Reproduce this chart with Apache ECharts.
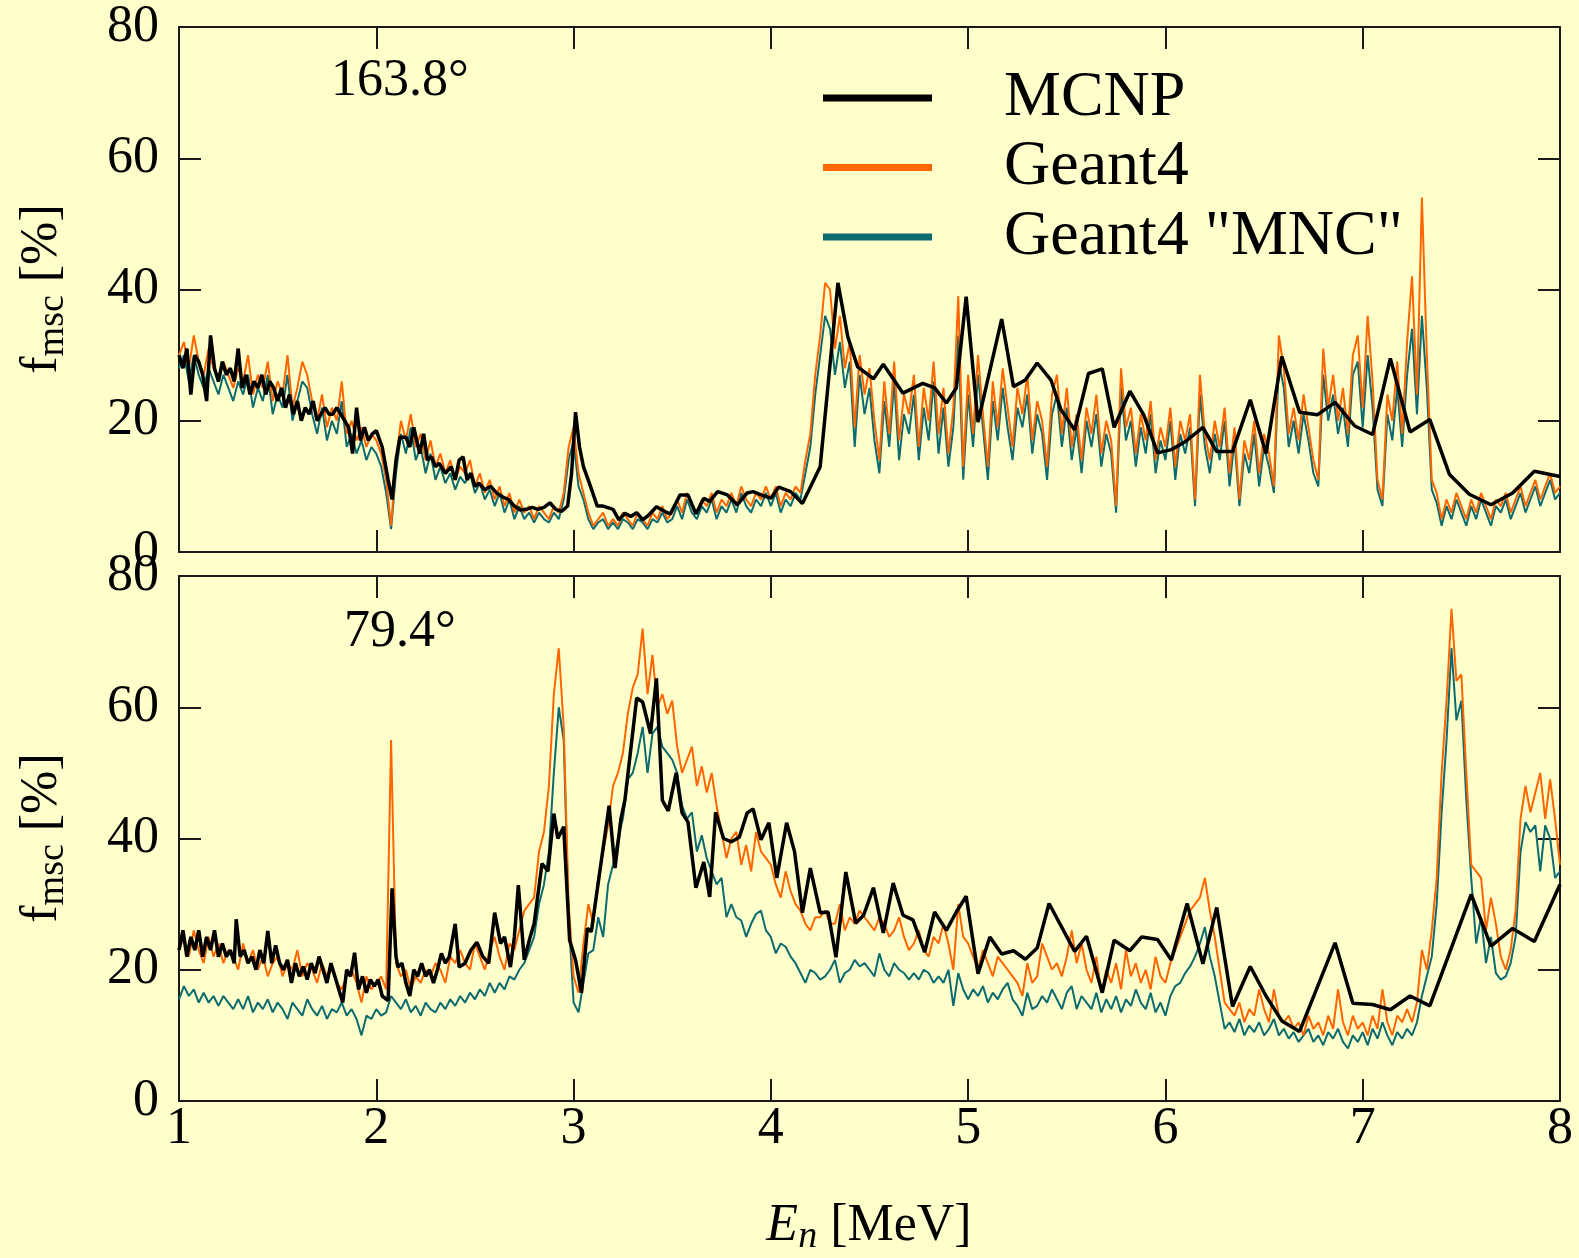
<!DOCTYPE html>
<html lang="en">
<head>
<meta charset="UTF-8">
<title>f_msc vs E_n</title>
<style>
    html, body { margin: 0; padding: 0; background: #ffffcc; }
    #box { width: 1579px; height: 1258px; }
</style>
</head>
<body>
<div id="box"></div>
<script src="https://cdn.jsdelivr.net/npm/echarts/dist/echarts.min.js"></script>
<script>
// Geant4 bins: 1.000, 1.025, ... 8.000 MeV
var E_START = 1.0;
var E_STEP = 0.025;

// ---- 163.8 deg ----
var g4Top = [
    30,32,28,33,29,27,31,28,26,29, 27,25,28,26,30,24,27,25,29,23, 26,24,30,22,25,29,27,23,20,24, 19,22,20,26,18,20,17,19,16,18,
    17,15,11,4,14,20,17,21,16,18, 14,17,13,15,12,14,11,13,12,14, 10,12,9,11,8,10,7,9,6,8, 6,7,5,7,6,5,7,6,9,16,
    19,12,9,6,4,5,6,4,5,4, 6,5,4,6,5,4,6,5,7,5, 6,8,6,9,7,6,8,7,9,6, 8,7,9,7,10,8,7,9,8,10,
    8,10,7,9,8,10,9,14,18,27, 33,41,40,31,36,28,32,19,30,24, 28,20,14,26,18,29,17,24,21,27, 16,25,20,29,18,25,15,22,39,13,
    27,18,30,21,13,26,19,28,22,16, 25,21,27,17,23,20,13,24,27,18, 25,16,21,14,22,18,24,15,20,17, 7,28,19,22,15,21,17,23,14,19,
    16,22,13,20,17,21,8,27,18,14, 20,16,22,12,19,8,17,14,20,12, 18,15,10,33,28,18,22,17,24,19, 14,11,31,22,27,20,25,18,30,33,
    22,36,26,11,8,24,20,29,18,32, 42,24,54,30,11,9,5,8,6,9, 7,5,8,6,9,7,5,8,7,9, 6,8,10,7,9,11,8,10,12,9,
    10
];
var g4MncTop = [
    28,30,26,30,27,25,28,26,24,27, 25,23,26,24,27,22,25,23,27,21, 24,22,27,20,23,26,25,21,18,22, 17,20,18,23,16,18,15,17,14,16,
    15,13,9,3.5,12,18,15,19,14,16, 12,15,11,13,10.5,12,9.5,11.5,10.5,12, 9,10.5,8,9.5,7,9,6,8,5,7, 5,6,4.5,6,5,4.5,6,5,8,14,
    17,10,8,5,3.5,4.5,5,3.5,4.5,3.5, 5,4.5,3.5,5,4.5,3.5,5,4.5,6,4.5, 5,7,5,8,6,5,7,6,8,5, 7,6,8,6,9,7,6,8,7,9,
    7,9,6,8,7,9,8,12,16,24, 30,36,34,27,32,25,29,16,27,21, 25,17,12,23,16,26,14,21,18,24, 14,22,17,26,15,22,13,19,33,11,
    24,16,27,19,11,23,17,25,19,14, 22,19,24,15,21,18,11,21,24,16, 22,14,19,12,20,16,21,13,18,15, 6,25,17,20,13,19,15,21,12,17,
    14,20,11,18,15,19,7,24,16,12, 18,14,20,10,17,7,15,12,18,10, 16,13,9,29,25,16,20,15,21,17, 12,10,27,20,24,18,22,16,27,29,
    19,30,22,9.5,7,21,17,25,16,27, 34,21,36,25,9.5,7.5,4,7,5,8, 6,4,7,5,8,6,4,7,6,8, 5,7,9,6,8,10,7,9,11,8,
    9
];
var mcnpTopE = [
    1.00,1.02,1.04,1.06,1.08,1.10,1.12,1.14,1.16,1.18, 1.20,1.22,1.24,1.26,1.28,1.30,1.32,1.34,1.36,1.38,
    1.40,1.42,1.44,1.46,1.48,1.50,1.52,1.54,1.56,1.58, 1.60,1.62,1.64,1.66,1.68,1.70,1.72,1.74,1.76,1.78,
    1.80,1.82,1.84,1.86,1.88,1.90,1.92,1.94,1.96,1.98, 2.00,
    2.03,2.06,2.08,2.10,2.12,2.15,2.17,2.19,2.22,2.24, 2.26,2.28,2.30,2.32,2.35,2.38,2.40,2.42,2.44,2.46,
    2.48,2.50,2.52,2.55,2.58,2.61,2.64,2.67,2.70,2.73, 2.76,2.79,2.82,2.85,2.88,2.91,2.94,2.97,2.99,3.01,
    3.03,3.05,3.08,3.12,3.15,3.20,3.23,3.26,3.29,3.32, 3.35,3.38,3.42,3.46,3.49,3.54,3.58,3.62,3.66,3.69,
    3.73,3.78,3.83,3.88,3.91,3.96,4.00,4.04,4.10,4.16, 4.25,4.34,4.39,4.44,4.52,4.57,4.67,4.77,4.83,4.89,
    4.94,4.99,5.05,5.17,5.23,5.29,5.35,5.42,5.47,5.54, 5.61,5.68,5.74,5.82,5.89,5.96,6.03,6.10,6.19,6.26,
    6.34,6.43,6.51,6.59,6.68,6.77,6.86,6.96,7.05,7.14, 7.24,7.34,7.44,7.54,7.65,7.76,7.87,8.00
];
var mcnpTop = [
    30,28,31,24,30,29,27,23,33,28, 26,29,27,28,26,31,25,27,24,26,
    25,27,24,26,25,23,25,22,24,21, 23,20,22,21,23,20,21,22,21,21,
    22,21,20,19,15,22,17,19,17,18, 18.5,
    16,11,8,14,17.5,17.5,16,19,15,18, 14,14.5,13,13.5,12,13,11,14,14.5,11,
    12,10,10.5,9.5,10,9,8.4,8,7,6.4, 6.5,6.8,6.5,6.8,7.5,6.5,6.2,7,12,21.3,
    16,13,10.5,7,7,6.5,4.9,5.9,5.4,6.0, 4.9,5.6,6.9,6.2,5.8,8.7,8.7,5.8,8.2,7.7,
    9.2,8.7,7.2,9.0,9.2,8.6,8.2,9.9,9.2,7.4, 13,41,32.8,28.2,26.4,28.6,24.2,25.7,25,22.7,
    25,38.9,19.8,35.5,25.2,26.2,28.8,26.2,21.7,18.6, 27.2,27.9,19.0,24.5,20.9,15.1,15.6,16.8,19.0,15.3,
    15.3,23.2,15.0,29.8,21.3,20.9,22.8,19.2,17.9,29.5, 18.3,20.2,11.8,8.8,7.2,9.0,12.3,11.5
];

// ---- 79.4 deg ----
var g4Bot = [
    23,25,22,26,23,21,25,22,24,21, 23,22,20,24,21,23,20,22,19,21, 22,19,21,20,23,19,21,20,18,21, 19,20,18,17,19,20,18,15,19,17,
    18,19,17,55,21,19,20,17,19,18, 20,19,21,20,18,22,21,23,21,20, 24,22,20,23,25,22,20,24,23,26, 29,30,31,38,41,48,62,69,57,30,
    19,16.5,24,30,27,34,38,42,48,50, 53,59,63,65,72,62,68,60,62,59, 61,54,50,52,54,48,51,47,50,45, 41,37,40,41,36,39,35,41,38,37,
    36,33,31,35,32,30,29,27,26,28, 28,29,27,27,30,26,28,27,29,28, 27,26,28,27,25,26,28,25,23,24, 26,23,22,25,24,27,24,20,30,25,
    24,22,20,23,21,19,22,21,20,19, 18,16,21,18,19,24,22,20,21,19, 22,26,21,24,20,18,22,16.5,20,18, 21,17,23,19,21,18,20,17,22,19,
    18,21,23,25,27,29,30,31,34,29, 25,20,15,14,13,15,12,14,13,17, 14,12,17,13,12,13,11,12,10,13, 11,12,10,13,11,17,12,10,13,11,
    12,10,13,11,17,12,10,13,12,14, 12,15,23,20,26,34,50,61,75,64, 65,50,36,35,34,26,31,27,22,20, 23,29,43,48,44,47,50,43,49,43,
    36
];
var g4MncBot = [
    15.5,17.5,16,17,15,16.5,15,16,14.5,16, 15,14,15.5,14,16,13.5,15,14,15.5,13.5, 15,14,12.5,15,14,13,15.5,14,13,14.5, 12.5,14,13.5,15,13,14,12.5,10,13,12.5,
    14,13,13.5,16,15,14,15.5,13.5,14.5,13, 15,14,13.5,15,14,15.5,14.5,16,15,16.5, 15.5,17,16,18,16.5,18,17,19,18.5,20, 21,23,25,30,33,38,50,60,55,28,
    15,13.5,18,22.5,23,28,25,33,36,40, 43,49,50,53,57,50,56,57,54,53, 52,50,45,43,44,38,40.5,37,35,33, 34,28,30,28,27.5,25,27,28.5,29,26,
    25,22.5,24,23.5,22,21,19.5,18,20,19.5, 18.5,19,20,21.5,18,19.5,20,21.5,20.5,21, 20,19,22.5,20,19,21,20,19.5,18.5,19.5, 18.5,20,19.5,18,19,18,20,14.5,19.5,17,
    15.5,17,16,17.5,15,16.5,15.5,17,18,15.5, 14.5,13,16.5,14,14.5,16,15,17,15.5,14, 16.5,17.5,14,16,15,14,16.5,13.5,15.5,14, 16,13.5,15.5,14.5,17,15,14,16.5,13.5,15,
    13,16,17.5,18,19.5,20.5,22,24,26.5,22, 19,15,11,12,10.5,12.5,10,11.5,10.5,12, 10,11,12.5,10,11,9.5,10.5,9,10,11, 9,10,8.5,10.5,9.5,11,9,8,10,9,
    10.5,8.5,11,9.5,12,10,8.5,10.5,9.5,11, 10,12,16,19,22,30,44,55,69,58, 61,46,34,24,28,21,25,19.5,18.5,19, 21,25,38,42.5,41,42,35,42,40,34,
    35
];
var mcnpBotE = [
    1.00,1.02,1.04,1.06,1.08,1.10,1.12,1.14,1.16,1.18, 1.20,1.22,1.24,1.26,1.28,1.29,1.31,1.33,1.35,1.37,
    1.39,1.41,1.43,1.45,1.47,1.49,1.51,1.53,1.55,1.57, 1.59,1.61,1.63,1.65,1.67,1.69,1.71,1.73,1.75,1.77,
    1.79,1.81,1.83,1.85,1.87,1.89,1.91,1.93,1.95,1.97, 1.99,2.01,2.03,2.06,2.08,2.10,2.11,2.13,2.15,2.17,
    2.19,2.21,2.23,2.25,2.27,2.29,2.31,2.33,2.35,2.37, 2.40,2.42,2.45,2.48,2.51,2.54,2.57,2.60,2.63,2.65,
    2.68,2.70,2.72,2.75,2.78,2.80,2.84,2.87,2.90,2.92, 2.95,2.98,3.01,3.04,3.07,3.09,3.18,3.21,3.24,3.26,
    3.32,3.35,3.39,3.42,3.45,3.48,3.52,3.55,3.58,3.62, 3.66,3.69,3.72,3.76,3.80,3.84,3.88,3.91,3.95,3.99,
    4.03,4.08,4.12,4.16,4.20,4.25,4.29,4.33,4.38,4.43, 4.47,4.52,4.57,4.62,4.67,4.72,4.78,4.83,4.89,4.94,
    4.99,5.05,5.11,5.17,5.23,5.29,5.35,5.41,5.54,5.60, 5.68,5.74,5.82,5.88,5.96,6.03,6.11,6.19,6.26,6.34,
    6.43,6.51,6.59,6.68,6.86,6.95,7.05,7.14,7.24,7.34, 7.55,7.65,7.76,7.87,8.00
];
var mcnpBot = [
    23,26,22,25,23,26,22,25,23,26, 22,24,22,23,21,27.7,22,23,21,22,
    20,23,21,25.9,21,23.7,21,20,21.5,18, 21,19,20.5,18.5,21,19.5,22,20,18,21,
    19,17,15,20,19,22.6,17,19,16.5,18.5, 17.5,18.5,16,15.3,32.4,22,20.4,21,18,16,
    20,19,21,19,20,18,20,22.5,21,22, 27,20.4,21,23,24.2,22,21,28.7,24,25,
    20.4,25,32.9,21.5,25,27,36.2,35,43.8,40, 41.8,24.5,21.5,16.5,26.3,25.8,45,35.5,43,45.8,
    61.4,60.8,56,64.4,45.8,44.2,50,43.9,42.5,32.5, 36.4,31.1,44,40,39.5,40.2,43.9,44.5,39.8,42.4,
    34,42.4,38,28.7,35.5,28.7,28.8,21.9,34.9,27.1, 28.3,32.5,25.6,33.2,28.3,27.6,22.7,28.8,26,28.8,
    31.2,19.4,25,22.4,22.9,21.6,23.3,30.1,22.8,25.1, 16.5,24.5,22.9,25,24.6,21.5,30.1,20.9,29.5,14.4,
    20.5,16,12.2,10.6,24.1,14.9,14.7,13.9,16,14.5, 31.5,23.6,26.3,24.3,33
];

var xTicks = [1, 8, 1];      // min, max, interval
var yTicks = [0, 80, 20];

var FONT = '"Liberation Serif", "DejaVu Serif", serif';
var AXIS_COLOR = '#1a1a1a';
var C_MCNP = '#000000', C_G4 = '#ff6600', C_MNC = '#0b6b6e';

function g4Pairs(vals) {
    return vals.map(function (v, i) { return [+(E_START + i * E_STEP).toFixed(3), v]; });
}
function zip(xs, ys) {
    return xs.map(function (x, i) { return [x, ys[i]]; });
}

var grids = [
    { left: 179, top: 27, width: 1381, height: 525, containLabel: false, outerBoundsMode: 'none' },
    { left: 179, top: 576, width: 1381, height: 525, containLabel: false, outerBoundsMode: 'none' }
];

function xAxis(gridIndex, position, showLabel) {
    return {
        type: 'value', gridIndex: gridIndex, position: position,
        min: xTicks[0], max: xTicks[1], interval: xTicks[2],
        axisLine: { show: true, onZero: false, lineStyle: { color: AXIS_COLOR, width: 2 } },
        axisTick: { show: true, inside: true, length: 22, lineStyle: { color: AXIS_COLOR, width: 2 } },
        axisLabel: { show: showLabel, margin: 2, color: '#000', fontSize: 52, fontFamily: FONT,
                     showMinLabel: true, showMaxLabel: true },
        splitLine: { show: false }
    };
}
function yAxis(gridIndex, position, showLabel) {
    return {
        type: 'value', gridIndex: gridIndex, position: position,
        min: yTicks[0], max: yTicks[1], interval: yTicks[2],
        axisLine: { show: true, onZero: false, lineStyle: { color: AXIS_COLOR, width: 2 } },
        axisTick: { show: true, inside: true, length: 22, lineStyle: { color: AXIS_COLOR, width: 2 } },
        axisLabel: { show: showLabel, margin: 20, color: '#000', fontSize: 52, fontFamily: FONT,
                     showMinLabel: true, showMaxLabel: true },
        splitLine: { show: false }
    };
}

function line(name, color, width, data, axisIdx) {
    return {
        name: name, type: 'line', data: data,
        xAxisIndex: axisIdx, yAxisIndex: axisIdx,
        color: color, showSymbol: false, symbol: 'none', smooth: false,
        lineStyle: { color: color, width: width },
        emphasis: { disabled: true }
    };
}

var titleRich = {
    f: { fontFamily: FONT, fontSize: 52, lineHeight: 60, color: '#000' },
    s: { fontFamily: FONT, fontSize: 38, lineHeight: 38, color: '#000', verticalAlign: 'bottom' },
    e: { fontFamily: FONT, fontSize: 52, lineHeight: 60, color: '#000', fontStyle: 'italic' },
    n: { fontFamily: FONT, fontSize: 38, lineHeight: 38, color: '#000', fontStyle: 'italic', verticalAlign: 'bottom' }
};

function textEl(x, y, text, rot) {
    return {
        type: 'text', x: x, y: y, rotation: rot || 0, silent: true,
        style: { text: text, rich: titleRich, align: 'center', verticalAlign: 'middle',
                 fontFamily: FONT, fontSize: 52, fill: '#000' }
    };
}

var box = echarts.init(document.getElementById('box'), null, { renderer: 'canvas' });
box.setOption({
    backgroundColor: '#ffffcc',
    animation: false,
    grid: grids,
    xAxis: [xAxis(0, 'bottom', false), xAxis(0, 'top', false), xAxis(1, 'bottom', true), xAxis(1, 'top', false)],
    yAxis: [yAxis(0, 'left', true), yAxis(0, 'right', false), yAxis(1, 'left', true), yAxis(1, 'right', false)],
    legend: {
        data: ['MCNP', 'Geant4', 'Geant4 "MNC"'],
        orient: 'vertical', left: 818, top: 61,
        icon: 'rect', itemWidth: 109, itemHeight: 7, itemGap: 5.5,
        selectedMode: false,
        textStyle: { fontFamily: FONT, fontSize: 64, lineHeight: 64, color: '#000', padding: [0, 0, 0, 67] }
    },
    graphic: [
        textEl(42, 289, '{f|f}{s|msc}{f| [%]}', Math.PI / 2),
        textEl(42, 838, '{f|f}{s|msc}{f| [%]}', Math.PI / 2),
        textEl(869, 1226, '{e|E}{n|n}{f| [MeV]}'),
        textEl(400, 81, '{f|163.8°}'),
        textEl(400, 632, '{f|79.4°}')
    ],
    series: [
        line('Geant4 "MNC"', C_MNC, 2, g4Pairs(g4MncTop), 0),
        line('Geant4', C_G4, 2, g4Pairs(g4Top), 0),
        line('MCNP', C_MCNP, 3.5, zip(mcnpTopE, mcnpTop), 0),
        line('Geant4 "MNC"', C_MNC, 2, g4Pairs(g4MncBot), 2),
        line('Geant4', C_G4, 2, g4Pairs(g4Bot), 2),
        line('MCNP', C_MCNP, 3.5, zip(mcnpBotE, mcnpBot), 2)
    ]
});
</script>
</body>
</html>
